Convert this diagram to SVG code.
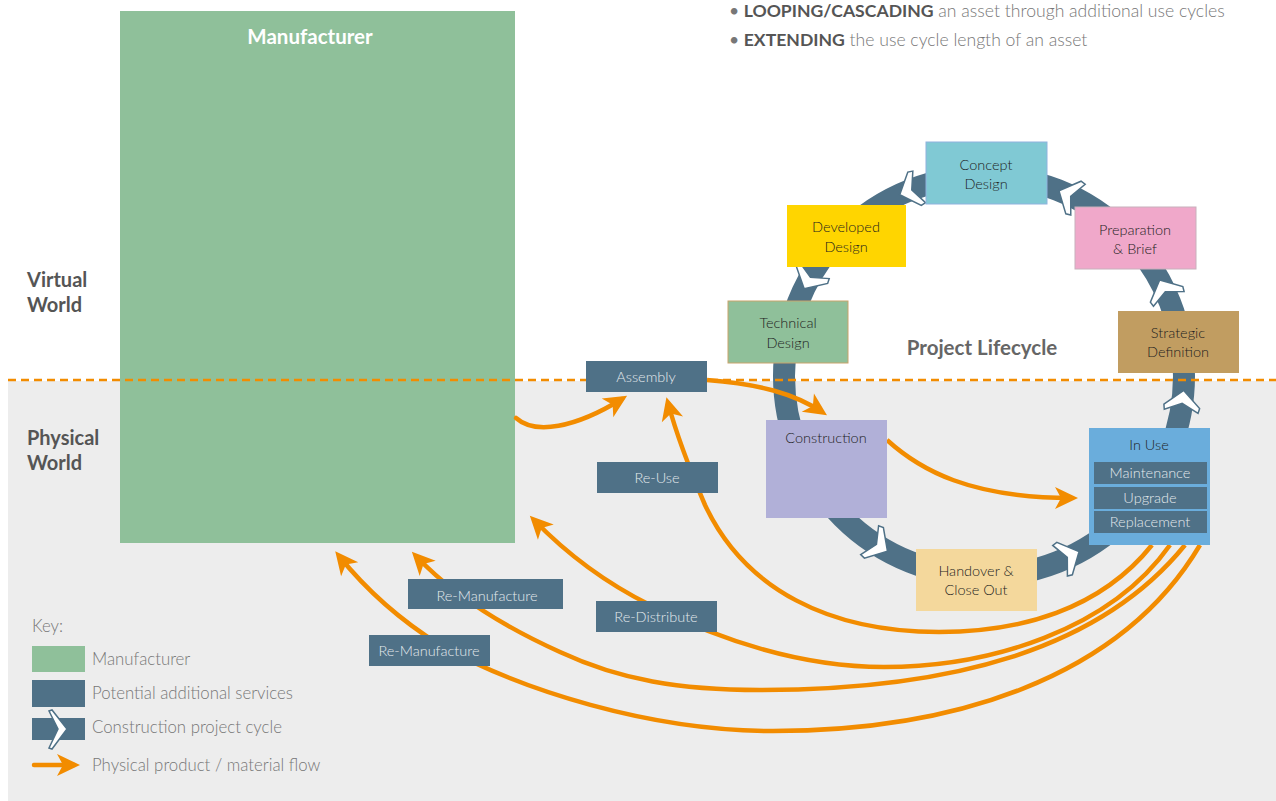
<svg xmlns="http://www.w3.org/2000/svg" xmlns:xlink="http://www.w3.org/1999/xlink" width="1276" height="801" viewBox="0 0 1276 801">
  <style>
    text { font-family: Lato, "Open Sans", "Liberation Sans", sans-serif; }
    .svc { fill: #4f7187; }
    .svc-t { fill: #e3e9ed; font-size: 14.5px; text-anchor: middle; font-weight: 300; }
    .stage-t { fill: #1e1e1e; font-size: 14.5px; text-anchor: middle; font-weight: 300; }
    .world { fill: #555; font-size: 20px; font-weight: bold; }
    .key-t { fill: #777; font-size: 16.8px; font-weight: 300; }
    .flow { fill: none; stroke: #f28c00; stroke-width: 4.5; marker-end: url(#ah); }
    .ring { fill: none; stroke: #4f7187; stroke-width: 22; }
    .chev { fill: #fff; stroke: #4f7187; stroke-width: 1.5; stroke-linejoin: miter; }
  </style>
  <defs>
    <marker id="ah" markerUnits="userSpaceOnUse" markerWidth="30" markerHeight="30" viewBox="-20 -15 30 30" refX="0" refY="0" orient="auto">
      <path d="M6,0 L-17,-11 L-11,0 L-17,11 Z" fill="#f28c00"/>
    </marker>
    <path id="chev" class="chev" d="M10,0 L-6,-18 L-11,-17 L-3,0 L-11,17 L-6,18 Z"/>
  </defs>

  <!-- physical world backdrop -->
  <rect x="0" y="0" width="1276" height="801" fill="#ffffff"/>
  <rect x="8" y="381" width="1268" height="420" fill="#ededed"/>

  <!-- manufacturer block -->
  <g id="manufacturer">
    <rect x="120" y="11" width="395" height="532" fill="#8fc09a"/>
    <text x="310" y="44" fill="#ffffff" font-size="20.5" font-weight="bold" text-anchor="middle">Manufacturer</text>
  </g>

  <!-- project lifecycle ring -->
  <g id="lifecycle-ring">
    <circle class="ring" cx="984" cy="376" r="200"/>
    <use xlink:href="#chev" transform="translate(1182.5,400.4) rotate(-83)"/>
    <use xlink:href="#chev" transform="translate(1164,289) rotate(-115.7)"/>
    <use xlink:href="#chev" transform="translate(1068,195) rotate(-155)"/>
    <use xlink:href="#chev" transform="translate(909,191) rotate(158)"/>
    <use xlink:href="#chev" transform="translate(809,280) rotate(119)"/>
    <use xlink:href="#chev" transform="translate(879,546) rotate(31.8)"/>
    <use xlink:href="#chev" transform="translate(1070,556) rotate(-25.6)"/>
  </g>

  <!-- virtual / physical boundary -->
  <line x1="8" y1="380" x2="1276" y2="380" stroke="#f28c00" stroke-width="2.5" stroke-dasharray="8,5"/>

  <g id="world-labels">
    <text class="world" x="27" y="287">Virtual</text>
    <text class="world" x="27" y="312">World</text>
    <text class="world" x="27" y="445">Physical</text>
    <text class="world" x="27" y="470">World</text>
  </g>

  <g id="notes" font-size="17.6">
    <text x="729" y="17" fill="#777"><tspan fill="#777">•</tspan> <tspan font-weight="bold" fill="#555">LOOPING/CASCADING</tspan><tspan font-weight="300"> an asset through additional use cycles</tspan></text>
    <text x="729" y="46" fill="#777"><tspan fill="#777">•</tspan> <tspan font-weight="bold" fill="#555">EXTENDING</tspan><tspan font-weight="300"> the use cycle length of an asset</tspan></text>
  </g>

  <text id="lifecycle-title" x="982" y="355" fill="#666" font-size="20.5" font-weight="bold" text-anchor="middle">Project Lifecycle</text>

  <!-- material flows -->
  <g id="connectors">
    <path class="flow" stroke-linecap="round" d="M516,418 C535,435 575,428 622,399"/>
    <path class="flow" d="M707,380 C760,384 795,394 822,412"/>
    <path class="flow" d="M887,440 C920,470 970,498 1072,498"/>
    <path class="flow" d="M1152,545 C1100,610 1020,632 939,632 C830,632 745,590 705,505 C690,470 678,440 668,403"/>
    <path class="flow" d="M1170,545 C1110,630 990,667 884,667 C800,667 720,640 650,605 C600,580 565,552 534,520"/>
    <path class="flow" d="M1185,545 C1100,650 950,690 760,690 C680,690 620,680 560,652 C500,625 450,592 416,556"/>
    <path class="flow" d="M1200,545 C1120,680 950,731 773,731 C650,731 520,690 440,645 C400,620 368,592 339,556"/>
  </g>

  <!-- lifecycle stages -->
  <g id="concept-design">
    <rect x="926" y="142" width="121" height="62" fill="#80c9d4" stroke="#8fb2de" stroke-width="1"/>
    <text class="stage-t" x="986" y="170">Concept</text>
    <text class="stage-t" x="986" y="189">Design</text>
  </g>
  <g id="developed-design">
    <rect x="787" y="205" width="119" height="62" fill="#ffd500"/>
    <text class="stage-t" x="846" y="232">Developed</text>
    <text class="stage-t" x="846" y="252">Design</text>
  </g>
  <g id="technical-design">
    <rect x="728" y="301" width="120" height="62" fill="#8fc09a" stroke="#c9a36a" stroke-width="1"/>
    <text class="stage-t" x="788" y="328">Technical</text>
    <text class="stage-t" x="788" y="348">Design</text>
  </g>
  <g id="preparation-brief">
    <rect x="1075" y="207" width="121" height="62" fill="#f0a8ca" stroke="#c8b0bc" stroke-width="1"/>
    <text class="stage-t" x="1135" y="235">Preparation</text>
    <text class="stage-t" x="1135" y="254">&amp; Brief</text>
  </g>
  <g id="strategic-definition">
    <rect x="1118" y="311" width="121" height="62" fill="#c19d61"/>
    <text class="stage-t" x="1178" y="338">Strategic</text>
    <text class="stage-t" x="1178" y="357">Definition</text>
  </g>
  <g id="construction">
    <rect x="766" y="420" width="121" height="98" fill="#b1b0d8"/>
    <text class="stage-t" x="826" y="443">Construction</text>
  </g>
  <g id="handover">
    <rect x="916" y="549" width="121" height="62" fill="#f4d89c"/>
    <text class="stage-t" x="976" y="576">Handover &amp;</text>
    <text class="stage-t" x="976" y="595">Close Out</text>
  </g>
  <g id="in-use">
    <rect x="1089" y="428" width="121" height="117" fill="#6aaddc"/>
    <text class="stage-t" x="1149" y="450">In Use</text>
    <rect class="svc" x="1094" y="462" width="113" height="22"/>
    <text class="svc-t" x="1150" y="478">Maintenance</text>
    <rect class="svc" x="1094" y="487" width="113" height="22"/>
    <text class="svc-t" x="1150" y="503">Upgrade</text>
    <rect class="svc" x="1094" y="511" width="113" height="22"/>
    <text class="svc-t" x="1150" y="527">Replacement</text>
  </g>

  <!-- additional services -->
  <g id="assembly">
    <rect class="svc" x="586" y="361" width="121" height="31"/>
    <text class="svc-t" x="646" y="382">Assembly</text>
  </g>
  <g id="re-use">
    <rect class="svc" x="597" y="462" width="121" height="31"/>
    <text class="svc-t" x="657" y="483">Re-Use</text>
  </g>
  <g id="re-distribute">
    <rect class="svc" x="596" y="601" width="121" height="31"/>
    <text class="svc-t" x="656" y="622">Re-Distribute</text>
  </g>
  <g id="re-manufacture-1">
    <rect class="svc" x="408" y="579" width="155" height="30"/>
    <text class="svc-t" x="487" y="601">Re-Manufacture</text>
  </g>
  <g id="re-manufacture-2">
    <rect class="svc" x="369" y="635" width="121" height="31"/>
    <text class="svc-t" x="429" y="656">Re-Manufacture</text>
  </g>

  <!-- key -->
  <g id="key">
    <text class="key-t" x="32" y="632">Key:</text>
    <rect x="32" y="646" width="53" height="26" fill="#8fc09a"/>
    <text class="key-t" x="92" y="665">Manufacturer</text>
    <rect class="svc" x="32" y="680" width="53" height="27"/>
    <text class="key-t" x="92" y="699">Potential additional services</text>
    <rect class="svc" x="32" y="718" width="53" height="22"/>
    <path class="chev" d="M67,729 L52,710 L49,711 L58,729 L49,748 L52,749 Z"/>
    <text class="key-t" x="92" y="733">Construction project cycle</text>
    <path class="flow" stroke-linecap="round" d="M34,765 L74,765"/>
    <text class="key-t" x="92" y="771">Physical product / material flow</text>
  </g>
</svg>
